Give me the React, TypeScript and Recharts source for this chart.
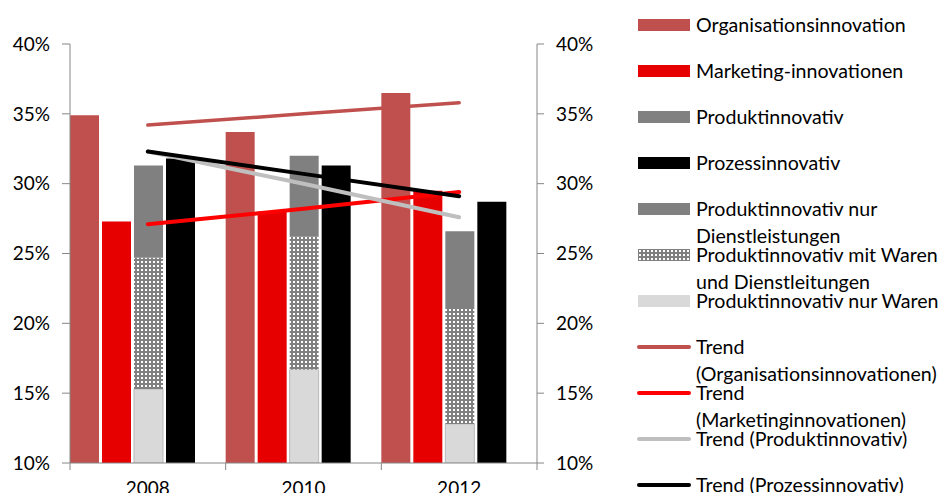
import React from "react";
import { Bar, ComposedChart, Legend, Line, XAxis, YAxis } from "recharts";

// Werte in Prozent
const years = ["2008", "2010", "2012"];
const organisation = [34.9, 33.7, 36.5];
const marketing = [27.3, 28.0, 29.5];
const produkt = [31.3, 32.0, 26.6];
const prozess = [31.8, 31.3, 28.7];
// Aufteilung der Produktinnovatoren (gestapelt)
const nurWaren = [15.3, 16.7, 12.8];
const warenUndDienst = [9.4, 9.5, 8.3];
// Trendlinien
const trendOrganisation = [34.2, 35.0, 35.8];
const trendMarketing = [27.1, 28.2, 29.4];
const trendProdukt = [32.3, 30.0, 27.6];
const trendProzess = [32.3, 30.7, 29.1];
const yTicks = [10, 15, 20, 25, 30, 35, 40];

const data = years.map((year, i) => ({
  year,
  organisation: organisation[i],
  marketing: marketing[i],
  nurWaren: nurWaren[i],
  warenUndDienst: warenUndDienst[i],
  // oberer Teil des Stapels: Rest bis zum Gesamtwert Produktinnovativ
  nurDienst: +(produkt[i] - nurWaren[i] - warenUndDienst[i]).toFixed(2),
  prozess: prozess[i],
  leer: null,
  trendOrganisation: trendOrganisation[i],
  trendMarketing: trendMarketing[i],
  trendProdukt: trendProdukt[i],
  trendProzess: trendProzess[i],
}));

const C = {
  org: "#C0504D",
  mkt: "#E60000",
  mktTrend: "#FF0000",
  grau: "#808080",
  hell: "#D9D9D9",
  trendGrau: "#BFBFBF",
  axis: "#868686",
};

const legendEntries = [
  { label: "Organisationsinnovation", kind: "bar", color: C.org },
  { label: "Marketing-innovationen", kind: "bar", color: C.mkt },
  { label: "Produktinnovativ", kind: "bar", color: C.grau },
  { label: "Prozessinnovativ", kind: "bar", color: "#000" },
  { label: "Produktinnovativ nur\nDienstleistungen", kind: "bar", color: C.grau },
  { label: "Produktinnovativ mit Waren\nund Dienstleitungen", kind: "pattern", color: C.grau },
  { label: "Produktinnovativ nur Waren", kind: "bar", color: C.hell },
  { label: "Trend\n(Organisationsinnovationen)", kind: "line", color: C.org },
  { label: "Trend\n(Marketinginnovationen)", kind: "line", color: C.mktTrend },
  { label: "Trend (Produktinnovativ)", kind: "line", color: C.trendGrau },
  { label: "Trend (Prozessinnovativ)", kind: "line", color: "#000" },
];

const TICK_SIZE = 7;
const TICK_MARGIN = 12;

function YearTick(props: any) {
  const { x, y, payload, index, visibleTicksCount } = props;
  const off = payload.offset || 0;
  const axisY = y - TICK_SIZE - TICK_MARGIN;
  return (
    <g>
      <line x1={x - off} x2={x - off} y1={axisY} y2={axisY + TICK_SIZE} stroke={C.axis} />
      {index === visibleTicksCount - 1 && (
        <line x1={x + off} x2={x + off} y1={axisY} y2={axisY + TICK_SIZE} stroke={C.axis} />
      )}
      <text x={x} y={y} dy="0.71em" textAnchor="middle" fill="#000" fontSize={19}>
        {payload.value}
      </text>
    </g>
  );
}

function Swatch({ kind, color }: { kind: string; color: string }) {
  if (kind === "line") {
    return (
      <svg width={56} height={8} style={{ position: "absolute", left: 6, top: 19 }}>
        <line x1={3} x2={53} y1={4} y2={4} stroke={color} strokeWidth={4} strokeLinecap="round" />
      </svg>
    );
  }
  return (
    <svg width={52} height={12} style={{ position: "absolute", left: 8, top: 17 }}>
      <defs>
        <pattern id="dotsLegend" width={4} height={4} patternUnits="userSpaceOnUse">
          <rect width={4} height={4} fill={C.grau} />
          <rect x={1} y={1} width={2} height={2} fill="#fff" />
        </pattern>
      </defs>
      <rect width={52} height={12} fill={kind === "pattern" ? "url(#dotsLegend)" : color} />
    </svg>
  );
}

function LegendBox() {
  return (
    <div style={{ width: 314 }}>
      {legendEntries.map((e) => (
        <div key={e.label} style={{ position: "relative", height: 46 }}>
          <Swatch kind={e.kind} color={e.color} />
          <div
            style={{
              position: "absolute",
              left: 66,
              top: 9,
              whiteSpace: "pre",
              lineHeight: "27px",
              fontSize: 19.6,
              color: "#000",
            }}
          >
            {e.label}
          </div>
        </div>
      ))}
    </div>
  );
}

export default function App() {
  return (
    <div style={{ position: "absolute", left: 0, top: 0, fontFamily: "Lato, 'Open Sans', sans-serif" }}>
      <ComposedChart
        width={944}
        height={493}
        data={data}
        margin={{ top: 44, right: 347, bottom: 0, left: 0 }}
        barCategoryGap={0}
        barGap={3}
      >
        <defs>
          <pattern id="dots" width={4} height={4} patternUnits="userSpaceOnUse">
            <rect width={4} height={4} fill={C.grau} />
            <rect x={1} y={1} width={2} height={2} fill="#fff" />
          </pattern>
        </defs>
        <XAxis
          dataKey="year"
          height={30}
          stroke={C.axis}
          tickLine={false}
          tickSize={TICK_SIZE}
          tickMargin={TICK_MARGIN}
          tick={<YearTick />}
          interval={0}
        />
        <YAxis
          yAxisId="l"
          width={70}
          domain={[10, 40]}
          ticks={yTicks}
          allowDataOverflow
          stroke={C.axis}
          tickSize={8}
          tickMargin={12}
          tick={{ fill: "#000", fontSize: 19 }}
          tickFormatter={(v) => `${v}%`}
        />
        <YAxis
          yAxisId="r"
          orientation="right"
          width={60}
          domain={[10, 40]}
          ticks={yTicks}
          allowDataOverflow
          stroke={C.axis}
          tickSize={7}
          tickMargin={12}
          tick={{ fill: "#000", fontSize: 19 }}
          tickFormatter={(v) => `${v}%`}
        />
        <Bar yAxisId="l" dataKey="organisation" stackId="o" fill={C.org} isAnimationActive={false} />
        <Bar yAxisId="l" dataKey="marketing" stackId="m" fill={C.mkt} isAnimationActive={false} />
        <Bar yAxisId="l" dataKey="nurWaren" stackId="p" fill={C.hell} stroke="#B8B8B8" strokeWidth={1} isAnimationActive={false} />
        <Bar yAxisId="l" dataKey="warenUndDienst" stackId="p" fill="url(#dots)" isAnimationActive={false} />
        <Bar yAxisId="l" dataKey="nurDienst" stackId="p" fill={C.grau} isAnimationActive={false} />
        <Bar yAxisId="l" dataKey="prozess" stackId="z" fill="#000" isAnimationActive={false} />
        <Bar yAxisId="l" dataKey="leer" stackId="x" fill="none" legendType="none" isAnimationActive={false} />
        <Line yAxisId="r" dataKey="trendOrganisation" stroke={C.org} strokeWidth={3.5} strokeLinecap="round" dot={false} isAnimationActive={false} />
        <Line yAxisId="r" dataKey="trendMarketing" stroke={C.mktTrend} strokeWidth={4} strokeLinecap="round" dot={false} isAnimationActive={false} />
        <Line yAxisId="r" dataKey="trendProdukt" stroke={C.trendGrau} strokeWidth={4} strokeLinecap="round" dot={false} isAnimationActive={false} />
        <Line yAxisId="r" dataKey="trendProzess" stroke="#000" strokeWidth={4} strokeLinecap="round" dot={false} isAnimationActive={false} />
        <Legend
          layout="vertical"
          align="center"
          verticalAlign="middle"
          wrapperStyle={{ left: 630, top: 2, width: 314 }}
          content={() => <LegendBox />}
        />
      </ComposedChart>
    </div>
  );
}
